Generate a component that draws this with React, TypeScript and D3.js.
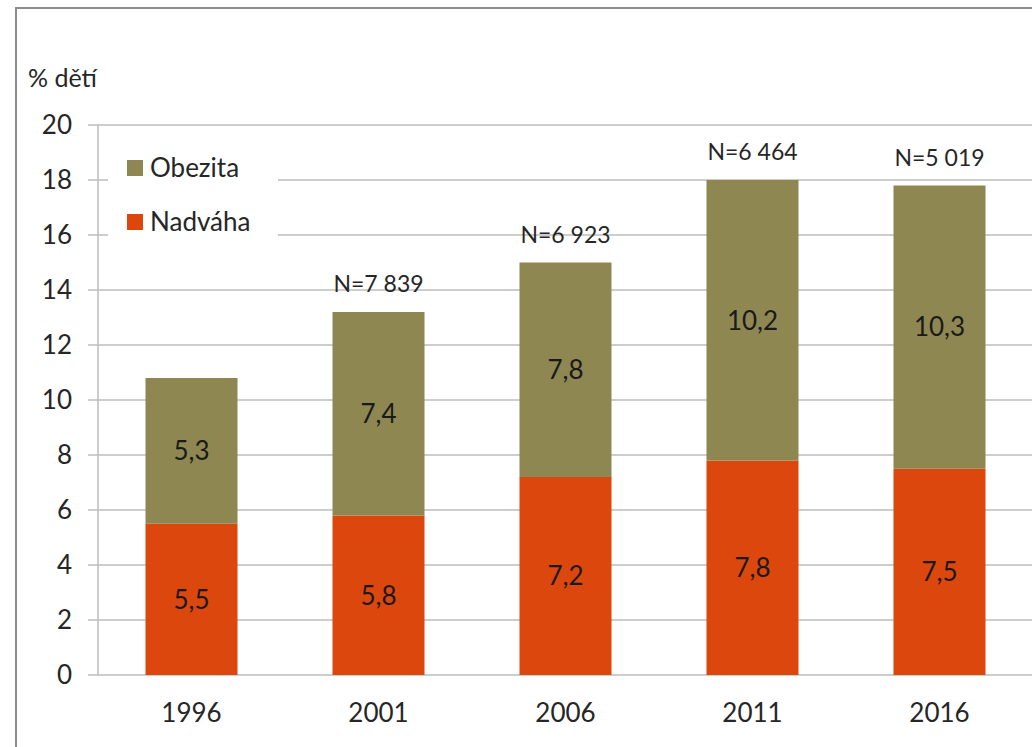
import React from 'react'
import * as d3 from 'd3'

const years = ['1996', '2001', '2006', '2011', '2016']
const nadvaha = [5.5, 5.8, 7.2, 7.8, 7.5]
const obezita = [5.3, 7.4, 7.8, 10.2, 10.3]
const nLabels = ['', 'N=7 839', 'N=6 923', 'N=6 464', 'N=5 019']
const yTicks = [0, 2, 4, 6, 8, 10, 12, 14, 16, 18, 20]

const colors = { nadvaha: '#DB470D', obezita: '#8F8752' }
const font = 'Lato, "Open Sans", sans-serif'

const fmt = (v: number) => v.toFixed(1).replace('.', ',')

const App = () => {
  const width = 1032
  const height = 747
  const left = 98
  const right = 1033
  const top = 125
  const bottom = 675

  const x = d3.scaleBand().domain(years).range([left, right]).paddingInner(0.508).paddingOuter(0.254)
  const y = d3.scaleLinear().domain([0, 20]).range([bottom, top])

  const series = d3
    .stack<any>()
    .keys(['nadvaha', 'obezita'])(years.map((yr, i) => ({ year: yr, nadvaha: nadvaha[i], obezita: obezita[i] })))

  return (
    <svg width={width} height={height} style={{ position: 'absolute', left: 0, top: 0 }}>
      <rect x={0} y={0} width={width} height={height} fill="#fff" />
      <rect x={16} y={8} width={width + 10} height={height + 10} fill="none" stroke="#8c8c8c" strokeWidth={2} />

      <text x={28} y={87} fontFamily={font} fontSize={25} fill="#262626">% dětí</text>

      {yTicks.map(t => (
        <g key={t}>
          <line x1={88} x2={right} y1={y(t)} y2={y(t)} stroke="#bdbdbd" strokeWidth={1.5} />
          <text x={72} y={y(t)} dy="0.36em" textAnchor="end" fontFamily={font} fontSize={26} fill="#262626">
            {t}
          </text>
        </g>
      ))}
      <line x1={left} x2={left} y1={top} y2={bottom} stroke="#bdbdbd" strokeWidth={1.5} />

      {series.map(s => (
        <g key={s.key}>
          {s.map((d, i) => (
            <g key={i}>
              <rect
                x={x(years[i])}
                y={y(d[1])}
                width={x.bandwidth()}
                height={y(d[0]) - y(d[1])}
                fill={(colors as any)[s.key]}
              />
              <text
                x={(x(years[i]) as number) + x.bandwidth() / 2}
                y={y((d[0] + d[1]) / 2)}
                dy="0.36em"
                textAnchor="middle"
                fontFamily={font}
                fontSize={26}
                fill="#1a1a1a"
              >
                {fmt(d[1] - d[0])}
              </text>
            </g>
          ))}
        </g>
      ))}

      {years.map((yr, i) => (
        <g key={yr}>
          <text
            x={(x(yr) as number) + x.bandwidth() / 2}
            y={y(nadvaha[i] + obezita[i]) - 20}
            textAnchor="middle"
            fontFamily={font}
            fontSize={23}
            fill="#262626"
          >
            {nLabels[i]}
          </text>
          <text
            x={(x(yr) as number) + x.bandwidth() / 2}
            y={713}
            dy="0.36em"
            textAnchor="middle"
            fontFamily={font}
            fontSize={26}
            fill="#262626"
          >
            {yr}
          </text>
        </g>
      ))}

      <g>
        <rect x={108} y={145} width={170} height={100} fill="#fff" />
        <rect x={127} y={160} width={16} height={16} fill={colors.obezita} />
        <text x={150} y={168} dy="0.36em" fontFamily={font} fontSize={26} fill="#262626">Obezita</text>
        <rect x={127} y={214} width={16} height={16} fill={colors.nadvaha} />
        <text x={150} y={222} dy="0.36em" fontFamily={font} fontSize={26} fill="#262626">Nadváha</text>
      </g>
    </svg>
  )
}

export default App
